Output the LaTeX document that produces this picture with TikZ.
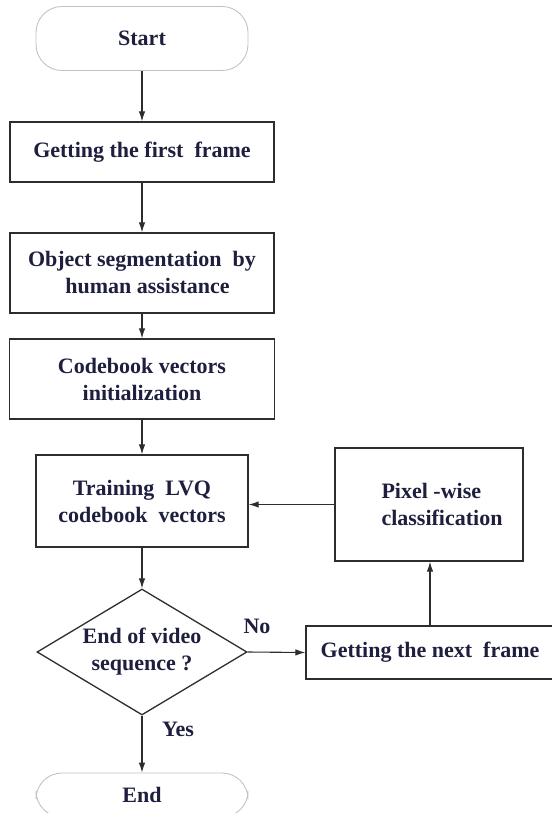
\documentclass[tikz,border=0pt]{standalone}
\usepackage{fontspec}
\setmainfont{Liberation Serif}
\usetikzlibrary{shapes.geometric,arrows.meta}
\definecolor{inkcol}{RGB}{45,45,45}
\definecolor{txtcol}{RGB}{30,30,62}
\definecolor{termcol}{RGB}{195,195,195}

\begin{document}
\begin{tikzpicture}[x=1pt,y=-1pt,
  every node/.style={font=\fontsize{22}{27}\selectfont\bfseries, text=txtcol},
  box/.style={draw=inkcol, line width=1.3pt, align=center, inner sep=0pt},
  term/.style={draw=termcol, line width=0.9pt, rounded corners=26pt, inner sep=0pt,
    minimum width=212pt, minimum height=64pt},
  decide/.style={diamond, aspect=1.67, draw=inkcol, line width=1.3pt, align=center,
    inner sep=0pt, minimum width=210pt, minimum height=126pt},
  flow/.style={draw=inkcol, line width=1.1pt, -{Latex[length=10pt,width=6.5pt]}}]

  % Fix the page size
  \useasboundingbox (0,0) rectangle (551,813);

  % Draw the main column
  \node[term] (start) at (142,38.5) {Start};
  \node[box, minimum width=264pt, minimum height=60pt] (first) at (142,152) {Getting the first~ frame};
  \node[box, minimum width=264pt, minimum height=80pt] (seg) at (142,273) {Object segmentation~ by\\ \ \ human assistance};
  \node[box, minimum width=265pt, minimum height=80pt] (init) at (142,379) {Codebook vectors\\initialization};
  \node[box, minimum width=212pt, minimum height=92pt] (train) at (142,501) {Training~ LVQ\\codebook~ vectors};
  \node[decide] (eov) at (142,652) {End of video\\sequence ?};
  \node[term, minimum height=44pt] (end) at (142,795) {End}; % cut by the page edge

  % Draw the loop on the right
  \node[box, align=left, minimum width=188pt, minimum height=113pt] (pix) at (429,504.5)
    {\hspace*{26pt}Pixel -wise\\\hspace*{26pt}classification};
  \node[box, minimum width=248pt, minimum height=53pt] (next) at (430,652.5) {Getting the next~ frame};

  % Draw the arrows
  \draw[flow] (start) -- (first);
  \draw[flow] (first) -- (seg);
  \draw[flow] (seg) -- (init);
  \draw[flow] (init) -- (train);
  \draw[flow] (train) -- (eov);
  \draw[flow] (eov) -- (end);
  \draw[flow] (eov.east) -- (next.west);
  \draw[flow] (next.north) -- (next.north |- pix.south);
  \draw[flow] (pix.west) -- (train.east |- pix.west);

  % Draw the labels
  \node (yes) at (178,729) {Yes};
  \node (no) at (257,626) {No};

\end{tikzpicture}
\end{document}
